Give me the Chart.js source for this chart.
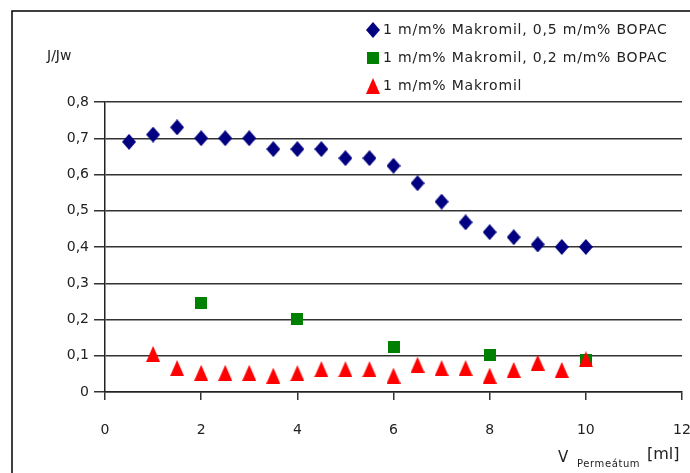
<!DOCTYPE html>
<html>
<head>
<meta charset="utf-8">
<script src="https://cdn.jsdelivr.net/npm/chart.js@4/dist/chart.umd.min.js"></script>
<style>
  html, body { margin: 0; padding: 0; background: #fff; }
  #wrap { width: 690px; height: 473px; }
</style>
</head>
<body>
<div id="wrap"><canvas id="myChart" width="690" height="473"></canvas></div>
<script>
// series labels
const labels = [
  '1 m/m% Makromil, 0,5 m/m% BOPAC',
  '1 m/m% Makromil, 0,2 m/m% BOPAC',
  '1 m/m% Makromil'
];

// V permeatum [ml] and J/Jw for each series
const xBopac05 = [0.5, 1, 1.5, 2, 2.5, 3, 3.5, 4, 4.5, 5, 5.5, 6, 6.5, 7, 7.5, 8, 8.5, 9, 9.5, 10];
const yBopac05 = [0.69, 0.71, 0.73, 0.70, 0.70, 0.70, 0.67, 0.67, 0.67, 0.645, 0.645, 0.624, 0.576, 0.525, 0.468, 0.441, 0.427, 0.407, 0.40, 0.40];

const xBopac02 = [2, 4, 6, 8, 10];
const yBopac02 = [0.246, 0.202, 0.125, 0.102, 0.088];

const xMakromil = [1, 1.5, 2, 2.5, 3, 3.5, 4, 4.5, 5, 5.5, 6, 6.5, 7, 7.5, 8, 8.5, 9, 9.5, 10];
const yMakromil = [0.105, 0.066, 0.053, 0.053, 0.053, 0.045, 0.052, 0.063, 0.063, 0.063, 0.045, 0.075, 0.066, 0.066, 0.045, 0.061, 0.081, 0.061, 0.09];

const xTicks = [0, 2, 4, 6, 8, 10, 12];
const yTicks = [0, 0.1, 0.2, 0.3, 0.4, 0.5, 0.6, 0.7, 0.8];

const colors = ['#000080', '#008000', '#ff0000'];

// marker shapes as small canvases (Excel markers are a bit taller than wide)
function marker(w, h, color, path) {
  const m = document.createElement('canvas');
  m.width = w; m.height = h;
  const mc = m.getContext('2d');
  mc.fillStyle = color;
  mc.beginPath();
  path(mc, w, h);
  mc.closePath();
  mc.fill();
  return m;
}
const diamond = marker(14, 16, colors[0], (c, w, h) => {
  c.moveTo(w / 2, 0); c.lineTo(w, h / 2); c.lineTo(w / 2, h); c.lineTo(0, h / 2);
});
const square = marker(12, 12, colors[1], (c, w, h) => {
  c.rect(0, 0, w, h);
});
const triangle = marker(14, 16, colors[2], (c, w, h) => {
  c.moveTo(w / 2, 0); c.lineTo(w, h); c.lineTo(0, h);
});
const styles = [diamond, square, triangle];

function toPoints(xs, ys) {
  return xs.map((x, i) => ({ x: x, y: ys[i] }));
}

const ctx = document.getElementById('myChart');

// frame, axis titles and legend drawn on the canvas
const decorations = {
  id: 'decorations',
  afterDraw(chart) {
    const c = chart.ctx;
    c.save();
    c.strokeStyle = '#000';
    c.lineWidth = 1.5;
    c.beginPath();
    c.moveTo(12, 480);
    c.lineTo(12, 11);
    c.lineTo(700, 11);
    c.stroke();

    c.fillStyle = '#222';
    c.textBaseline = 'middle';
    c.textAlign = 'left';
    c.font = '14px "DejaVu Sans"';
    c.fillText('J/Jw', 47, 56);

    c.font = '15px "DejaVu Sans"';
    c.fillText('V', 558, 458);
    c.font = '10px "DejaVu Sans"';
    c.letterSpacing = '0.6px';
    c.fillText('Permeátum', 577, 464);
    c.letterSpacing = '0px';
    c.font = '16px "DejaVu Sans"';
    c.fillText('[ml]', 647, 455);

    // legend
    const rowsY = [30, 58, 86];
    c.font = '14px "DejaVu Sans"';
    c.letterSpacing = '0.8px';
    labels.forEach((lab, i) => {
      const m = styles[i];
      c.drawImage(m, 373 - m.width / 2, rowsY[i] - m.height / 2);
      c.fillText(lab, 383, rowsY[i]);
    });
    c.restore();
  }
};

new Chart(ctx, {
  type: 'scatter',
  data: {
    datasets: [
      { label: labels[0], data: toPoints(xBopac05, yBopac05) },
      { label: labels[1], data: toPoints(xBopac02, yBopac02) },
      { label: labels[2], data: toPoints(xMakromil, yMakromil) }
    ].map((d, i) => Object.assign(d, {
      pointStyle: styles[i],
      pointRadius: 8,
      backgroundColor: colors[i],
      borderColor: colors[i],
      borderWidth: 0,
      order: 2 - i,   // later series drawn on top, like Excel
      clip: false
    }))
  },
  options: {
    responsive: false,
    animation: false,
    layout: { padding: { top: 102, right: 5, left: 0, bottom: 0 } },
    plugins: { legend: { display: false }, tooltip: { enabled: false } },
    scales: {
      x: {
        type: 'linear',
        min: 0, max: 12,
        afterFit(s) { s.height = 81; s.paddingLeft = 0; s.paddingRight = 0; },
        afterBuildTicks(s) { s.ticks = xTicks.map(v => ({ value: v })); },
        grid: { drawOnChartArea: false, color: '#333', lineWidth: 1.5, tickLength: 8 },
        border: { color: '#222', width: 1.5 },
        ticks: { color: '#222', font: { family: 'DejaVu Sans', size: 14 }, padding: 22, maxRotation: 0 }
      },
      y: {
        type: 'linear',
        min: 0, max: 0.8,
        afterFit(s) { s.width = 105; s.paddingTop = 0; s.paddingBottom = 0; },
        afterBuildTicks(s) { s.ticks = yTicks.map(v => ({ value: v })); },
        grid: { color: '#333', lineWidth: 1.5, tickLength: 11 },
        border: { color: '#222', width: 1.5 },
        ticks: {
          color: '#222',
          font: { family: 'DejaVu Sans', size: 14 },
          padding: 5,
          callback: v => v === 0 ? '0' : v.toFixed(1).replace('.', ',')
        }
      }
    }
  },
  plugins: [decorations]
});
</script>
</body>
</html>
